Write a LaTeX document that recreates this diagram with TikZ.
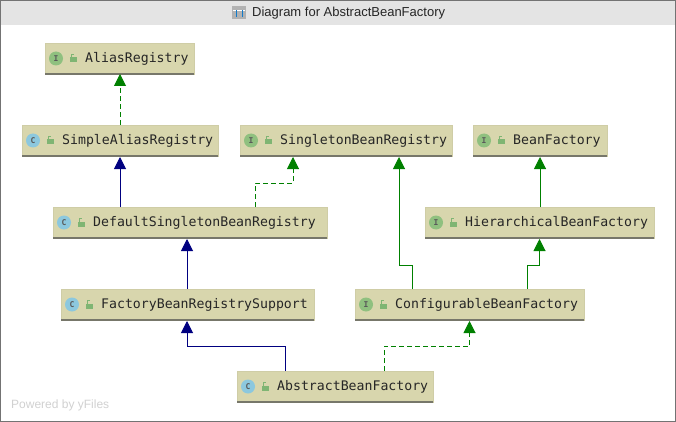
\documentclass[tikz,border=0pt]{standalone}
\usepackage{fontspec}
\setmainfont{DejaVu Sans}
\newfontfamily\labelfont{DejaVu Sans Mono}
\newfontfamily\titlefont{Liberation Sans}
\usetikzlibrary{arrows.meta,calc}
\definecolor{boxfill}{HTML}{D8D6AD}
\definecolor{boxedge}{HTML}{CFCDA6}
\definecolor{boxshadow}{HTML}{77776A}
\definecolor{igreen}{HTML}{8FC07F}
\definecolor{iblue}{HTML}{8CC8DE}
\definecolor{lockgreen}{HTML}{7FB573}
\definecolor{implgreen}{HTML}{008000}
\definecolor{extblue}{HTML}{000080}
\tikzset{
  x=1pt,y=-1pt,
  classbox/.style={draw=boxedge,line width=.6pt,fill=boxfill,rectangle,inner sep=0pt,outer sep=0pt,minimum height=31pt},
  classtext/.style={font=\labelfont\fontsize{13.2}{14}\selectfont,text=black!85,anchor=base west,inner sep=0pt},
  iconbase/.style={circle,minimum size=14pt,inner sep=0pt,font=\labelfont\bfseries\fontsize{8}{8}\selectfont,text=black!65},
  iface/.style={iconbase,fill=igreen},
  klass/.style={iconbase,fill=iblue},
  greenln/.style={draw=implgreen,line width=1pt},
  blueln/.style={draw=extblue,line width=1pt},
  realize/.style={greenln,-{Triangle[width=12pt,length=12pt,fill=implgreen]}},
  realizedash/.style={realize,dash pattern=on 5pt off 3pt},
  inherit/.style={blueln,-{Triangle[width=12pt,length=12pt,fill=extblue]}},
}
% name, left, right, top, text, icon style, icon letter
\newcommand{\umlbox}[7]{%
  \node[classbox,minimum width=#3pt-#2pt,anchor=north west] (#1) at (#2,#4) {};
  \draw[boxshadow,line width=1.6pt] (#1.south west) -- (#1.south east);
  \node[#6] (#1-icon) at ($(#1.west)+(11,0)$) {#7};
  \fill[lockgreen] ($(#1.west)+(25,-1)$) rectangle ($(#1.west)+(32,4)$);
  \draw[lockgreen,line width=1pt] ($(#1.west)+(26,-1)$) -- ($(#1.west)+(26,-4)$) -- ($(#1.west)+(29,-4)$);
  \node[classtext] (#1-text) at ($(#1.west)+(40,4)$) {#5};
}
\begin{document}
\begin{tikzpicture}
\useasboundingbox (0,0) rectangle (676,422);
\fill[white] (0,0) rectangle (676,422);
\fill[black!10.5] (0,0) rectangle (676,25);
\draw[black!55,line width=1.2pt] (0.6,0.6) rectangle (675.4,421.4);
% title
\node[font=\titlefont\fontsize{13}{14}\selectfont,text=black!85,anchor=west,inner sep=0pt] (title) at (252,13.5) {Diagram for AbstractBeanFactory};
\node[fill=black!30,minimum width=14pt,minimum height=13pt,inner sep=0pt] (titleicon) at (239,12.5) {};
\draw[white,line width=.8pt] ($(titleicon.west)+(1,-2)$) -- ($(titleicon.east)+(-1,-2)$);
\draw[cyan!60!blue,line width=1pt] ($(titleicon.center)+(-3,-2)$) -- ($(titleicon.center)+(-3,5)$);
\draw[cyan!60!blue,line width=1pt] ($(titleicon.center)+(3,-2)$) -- ($(titleicon.center)+(3,5)$);
% boxes
\umlbox{alias}{45}{194}{43}{AliasRegistry}{iface}{I}
\umlbox{simple}{22}{218}{125}{SimpleAliasRegistry}{klass}{C}
\umlbox{singleton}{240}{452}{125}{SingletonBeanRegistry}{iface}{I}
\umlbox{beanfactory}{473}{607}{125}{BeanFactory}{iface}{I}
\umlbox{default}{53}{327}{207}{DefaultSingletonBeanRegistry}{klass}{C}
\umlbox{hier}{425}{654}{207}{HierarchicalBeanFactory}{iface}{I}
\umlbox{support}{61}{314}{289}{FactoryBeanRegistrySupport}{klass}{C}
\umlbox{config}{355}{584}{289}{ConfigurableBeanFactory}{iface}{I}
\umlbox{abstract}{237}{433}{371}{AbstractBeanFactory}{klass}{C}
% connectors
\draw[realizedash] (simple.north) -- (simple.north |- alias.south);
\draw[inherit] (default.north -| simple.south) -- ([yshift=-1pt]simple.south);
\draw[inherit] ([xshift=126pt]support.north west) -- ([xshift=134pt,yshift=-1pt]default.south west);
\draw[realize] (beanfactory.south |- hier.north) -- ([yshift=-1pt]beanfactory.south);
\draw[realizedash] ([xshift=-72pt]default.north east) |- ([xshift=-159pt,yshift=-27pt]singleton.south east) -- ([xshift=-159pt,yshift=-1pt]singleton.south east);
\draw[realize] ([xshift=57pt]config.north west) |- ([xshift=159pt,yshift=-109pt]singleton.south west) -- ([xshift=159pt,yshift=-1pt]singleton.south west);
\draw[realize] ([xshift=172pt]config.north west) |- ([yshift=-27pt]hier.south) -- ([yshift=-1pt]hier.south);
\draw[inherit] ([xshift=48pt]abstract.north west) |- ([xshift=126pt,yshift=-26pt]support.south west) -- ([xshift=126pt,yshift=-1pt]support.south west);
\draw[realizedash] ([xshift=147pt]abstract.north west) |- ([yshift=-26pt]config.south) -- ([yshift=-1pt]config.south);
% watermark
\node[font=\titlefont\fontsize{12}{13}\selectfont,text=black!18,anchor=west,inner sep=0pt] (powered) at (11,405) {Powered by yFiles};
\end{tikzpicture}
\end{document}
